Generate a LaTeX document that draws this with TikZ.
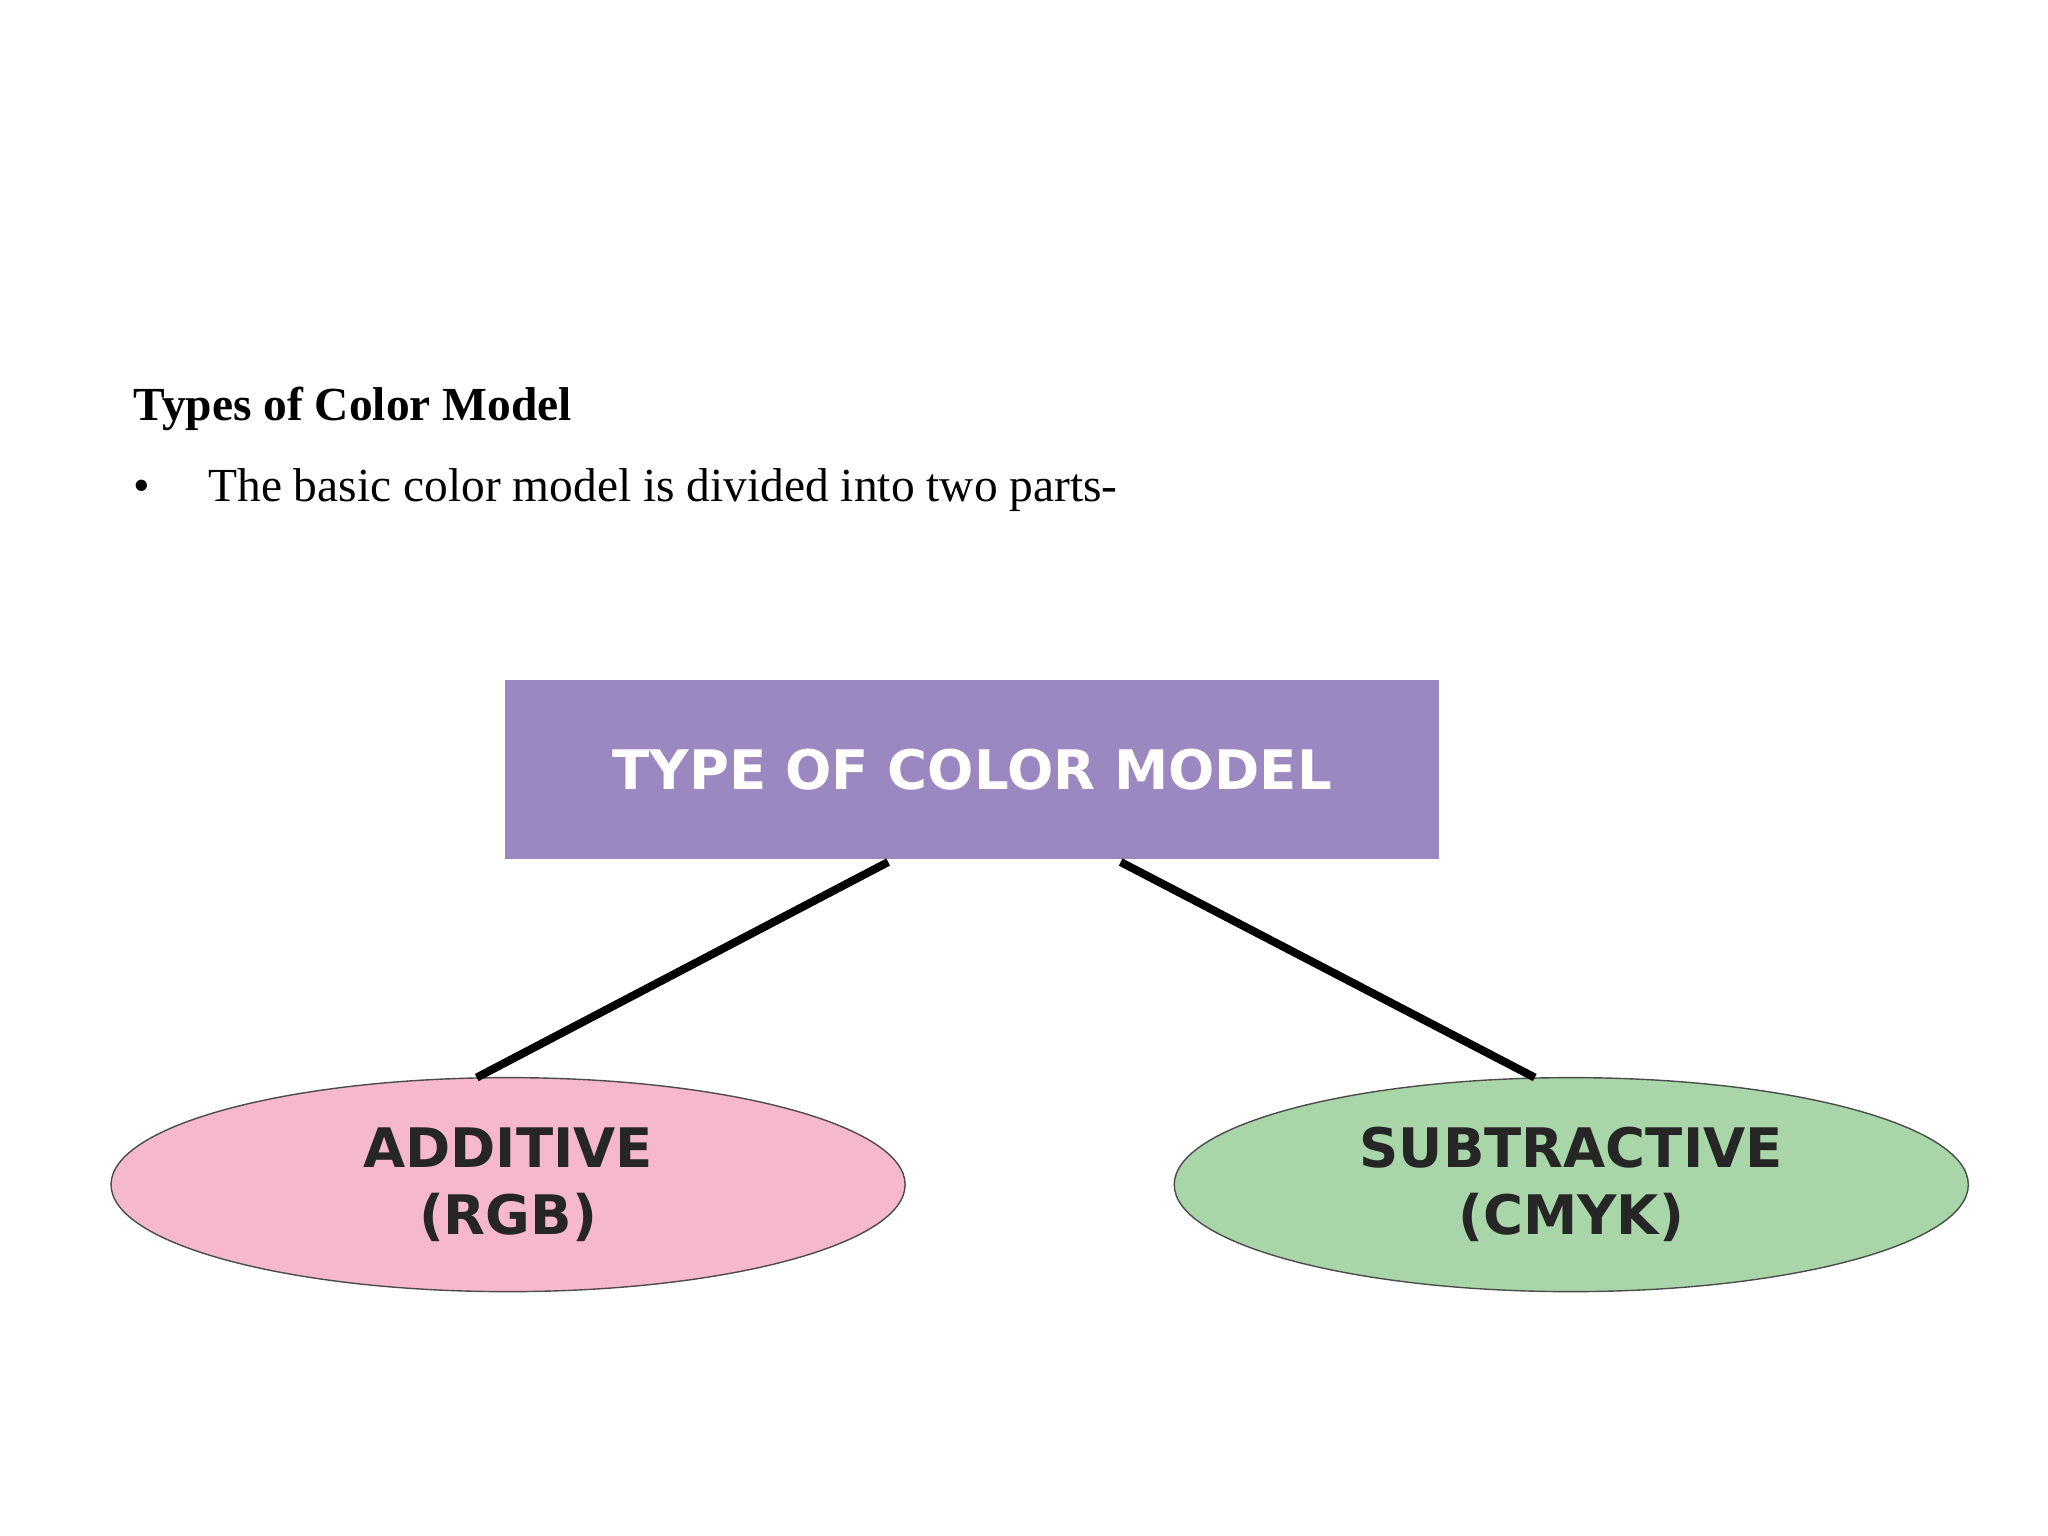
\documentclass[tikz,border=0pt]{standalone}
\usepackage{fontspec}
\setmainfont{Liberation Serif}
\newfontfamily\boxfont{DejaVu Sans}
\usetikzlibrary{shapes.geometric,calc}
\definecolor{TopClr}{RGB}{156,136,192}
\definecolor{AddClr}{RGB}{246,184,205}
\definecolor{SubClr}{RGB}{168,214,168}

\begin{document}
\begin{tikzpicture}[x=1.306cm,y=1.306cm,
  topbox/.style={fill=TopClr,minimum width=9.34cm,minimum height=1.79cm,
    font=\boxfont\bfseries\fontsize{15.5}{18}\selectfont,text=white},
  part/.style={ellipse,draw=black!70,thin,minimum width=7.94cm,minimum height=2.14cm,
    align=center,font=\boxfont\bfseries\fontsize{15.5}{19}\selectfont,text=black!85},
  branch/.style={line width=2.3pt,black}]
\useasboundingbox (0,0) rectangle (15.68,11.76);

% heading and bullet
\node[anchor=base west,font=\fontsize{13.5}{16}\selectfont\bfseries] (head) at (0.93,8.54) {Types of Color Model};
\node[anchor=base west,font=\fontsize{13.5}{16}\selectfont] (dot) at (0.93,7.92) {•};
\node[anchor=base west,font=\fontsize{13.5}{16}\selectfont] (line) at (1.50,7.92) {The basic color model is divided into two parts-};

% tree
\node[topbox] (top) at (7.445,5.865) {TYPE OF COLOR MODEL};
\node[part,fill=AddClr] (add) at (3.89,2.69) {ADDITIVE\\(RGB)};
\node[part,fill=SubClr] (sub) at (12.03,2.69) {SUBTRACTIVE\\(CMYK)};

\coordinate (tl) at (6.80,5.16);
\coordinate (tr) at (8.58,5.16);
\coordinate (al) at (3.65,3.51);
\coordinate (sr) at (11.75,3.51);
\draw[branch] (tl) -- (al);
\draw[branch] (tr) -- (sr);

\end{tikzpicture}
\end{document}
